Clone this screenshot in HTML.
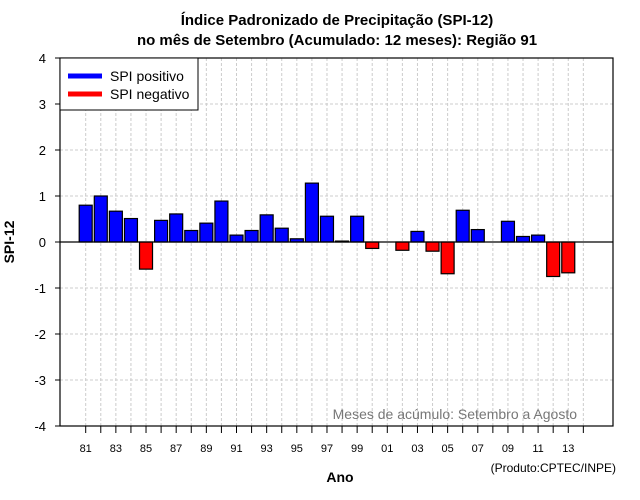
<!DOCTYPE html>
<html><head><meta charset="utf-8"><style>
body{margin:0;background:#fff}
svg{display:block;font-family:"Liberation Sans",sans-serif}
</style></head><body>
<svg id="c" width="640" height="500">
<text x="337" y="25" text-anchor="middle" font-size="15" font-weight="bold">Índice Padronizado de Precipitação (SPI-12)</text>
<text x="337" y="45" text-anchor="middle" font-size="15" font-weight="bold">no mês de Setembro (Acumulado: 12 meses): Região 91</text>
<g id="grid"></g>
<g id="bars"></g>
<line x1="60" y1="242" x2="613" y2="242" stroke="#000" stroke-width="1.2"/>
<rect x="60" y="58" width="553" height="368" fill="none" stroke="#000" stroke-width="1.2"/>
<g id="axes"></g>
<g>
<rect x="60" y="58" width="138" height="52" fill="#fff" stroke="#000"/>
<line x1="68" y1="76" x2="102" y2="76" stroke="#0000ff" stroke-width="5"/>
<text x="110" y="81" font-size="14">SPI positivo</text>
<line x1="68" y1="94" x2="102" y2="94" stroke="#ff0000" stroke-width="5"/>
<text x="110" y="99" font-size="14">SPI negativo</text>
</g>
<text x="577" y="419" text-anchor="end" font-size="14" fill="#777">Meses de acúmulo: Setembro a Agosto</text>
<text x="340" y="482" text-anchor="middle" font-size="14" font-weight="bold">Ano</text>
<text x="14" y="242" text-anchor="middle" font-size="14" font-weight="bold" transform="rotate(-90 14 242)">SPI-12</text>
<text x="616" y="472" text-anchor="end" font-size="12">(Produto:CPTEC/INPE)</text>
</svg>
<script>
const years=[1981,1982,1983,1984,1985,1986,1987,1988,1989,1990,1991,1992,1993,1994,1995,1996,1997,1998,1999,2000,2001,2002,2003,2004,2005,2006,2007,2008,2009,2010,2011,2012,2013];
const spi=[0.80,1.00,0.67,0.51,-0.59,0.47,0.61,0.25,0.41,0.89,0.15,0.25,0.59,0.30,0.07,1.28,0.56,0.02,0.56,-0.14,0,-0.18,0.23,-0.20,-0.69,0.69,0.27,0,0.45,0.12,0.15,-0.75,-0.67];
const yTicks=[-4,-3,-2,-1,0,1,2,3,4];
const tickYears=[1981,1982,1983,1984,1985,1986,1987,1988,1989,1990,1991,1992,1993,1994,1995,1996,1997,1998,1999,2000,2001,2002,2003,2004,2005,2006,2007,2008,2009,2010,2011,2012,2013,2014];
const NS="http://www.w3.org/2000/svg";
const xs=y=>85.7+15.08*(y-1981);
const ys=v=>242-46*v;
const g=document.getElementById('grid'),b=document.getElementById('bars'),a=document.getElementById('axes');
function mk(p,t,at){const e=document.createElementNS(NS,t);for(const k in at)e.setAttribute(k,at[k]);p.appendChild(e);return e;}
yTicks.forEach(v=>{
 const l=mk(g,'line',{x1:60,x2:613,y1:ys(v),y2:ys(v),stroke:'#ccc','stroke-dasharray':'3,2'});
 
 
 const t=mk(a,'line',{x1:55,x2:60,y1:ys(v),y2:ys(v),stroke:'#000'});
 
 
 const tx=mk(a,'text',{x:46,y:ys(v)+5,'text-anchor':'end','font-size':13});
 tx.textContent=v;
 
 
});
tickYears.forEach(y=>{
 const l=mk(g,'line',{x1:xs(y),x2:xs(y),y1:58,y2:426,stroke:'#ccc','stroke-dasharray':'3,2'});
 
 
 const t=mk(a,'line',{x1:xs(y),x2:xs(y),y1:426,y2:433,stroke:'#000'});
 
 
 if((y-1981)%2===0 && y<2014){
  const tx=mk(a,'text',{x:xs(y),y:452,'text-anchor':'middle','font-size':11});
  tx.textContent=String(y%100).padStart(2,'0');
  
  
 }
});
years.forEach((y,i)=>{
 const v=spi[i];if(v===0)return;
 const top=Math.min(ys(v),ys(0)),h=Math.abs(ys(v)-ys(0));
 const r=mk(b,'rect',{x:xs(y)-6.5,y:top,width:13,height:h,fill:v>0?'#0000ff':'#ff0000',stroke:'#000','stroke-width':1.2});
 
 
});
</script>
</body></html>
